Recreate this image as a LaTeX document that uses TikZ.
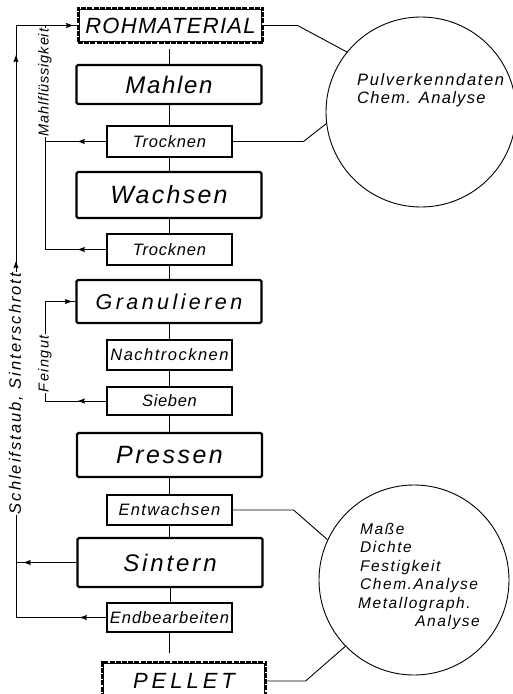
\documentclass[tikz,border=0pt]{standalone}
\usepackage{fontspec}
\setmainfont{Liberation Sans}
\usetikzlibrary{arrows.meta,decorations.markings}
\newcommand\tx[3]{{\fontsize{#1}{#1}\selectfont\addfontfeature{LetterSpace=#2}#3}}
\begin{document}
\begin{tikzpicture}[x=1pt,y=-1pt,font=\itshape,
  conn/.style={line width=0.9pt},
  bigbox/.style={draw,line width=2.4pt,rounded corners=1.5pt,minimum width=185pt,inner sep=0pt},
  smallbox/.style={draw,line width=1.1pt,minimum width=125pt,inner sep=0pt},
  dblbox/.style={draw,line width=1.2pt,dash pattern=on 5pt off 1.2pt,inner sep=0pt},
  lbl/.style={rotate=90,inner sep=1pt},
  ctext/.style={inner sep=0pt},
  circ/.style={draw,circle,line width=0.9pt,minimum size=190pt,inner sep=0pt},
  arr/.style={postaction={decorate,decoration={markings,mark=at position #1 with {\fill (2.5pt,0pt) -- (-4.5pt,2.6pt) -- (-3.5pt,0pt) -- (-4.5pt,-2.6pt) -- cycle;}}}}]
\useasboundingbox (0,0) rectangle (512,694);

% main column
\node[dblbox,minimum width=185pt,minimum height=35pt] (roh) at (170.5,25.5) {\tx{22}{6}{ROHMATERIAL}};
\draw[line width=0.9pt] ([shift={(2.5pt,2.5pt)}]roh.south west) rectangle ([shift={(-2.5pt,-2.5pt)}]roh.north east);
\node[bigbox,minimum height=39pt] (mahl) at (169,84.5) {\tx{24}{7}{Mahlen}};
\node[smallbox,minimum height=31pt] (trk1) at (169.5,141.5) {\tx{16.5}{5}{Trocknen}};
\node[bigbox,minimum height=46pt] (wach) at (169,195) {\tx{25}{9}{Wachsen}};
\node[smallbox,minimum height=31pt] (trk2) at (169.5,249.5) {\tx{16.5}{5}{Trocknen}};
\node[bigbox,minimum height=43pt] (gran) at (169,301.5) {\tx{21.5}{16}{Granulieren}};
\node[smallbox,minimum height=30pt] (nach) at (169.5,355) {\tx{16.5}{9}{Nachtrocknen}};
\node[smallbox,minimum height=28pt] (sieb) at (169.5,401) {\tx{16.5}{4}{Sieben}};
\node[bigbox,minimum height=44pt] (pres) at (169.5,455) {\tx{25}{10}{Pressen}};
\node[smallbox,minimum height=30pt] (entw) at (169.5,510) {\tx{16.5}{8}{Entwachsen}};
\node[bigbox,minimum height=49pt] (sint) at (170,562.5) {\tx{24}{12}{Sintern}};
\node[smallbox,minimum height=29pt] (endb) at (169.5,617.5) {\tx{16.5}{6}{Endbearbeiten}};
\node[dblbox,minimum width=164pt,minimum height=38pt] (pell) at (184,681) {\tx{22}{18}{PELLET}};
\draw[line width=0.9pt] ([shift={(2.5pt,2.5pt)}]pell.south west) rectangle ([shift={(-2.5pt,-2.5pt)}]pell.north east);

% vertical connectors
\draw[conn,shorten <=5pt] (mahl.north |- roh.south) -- (mahl.north);
\draw[conn] (mahl.south) -- (mahl.south |- trk1.north);
\draw[conn] (trk1.south) -- (trk1.south |- wach.north);
\draw[conn] (wach.south) -- (wach.south |- trk2.north);
\draw[conn] (trk2.south) -- (trk2.south |- gran.north);
\draw[conn] (gran.south) -- (gran.south |- nach.north);
\draw[conn] (nach.south) -- (nach.south |- sieb.north);
\draw[conn] (sieb.south) -- (sieb.south |- pres.north);
\draw[conn] (pres.south) -- (pres.south |- entw.north);
\draw[conn] (entw.south) -- (entw.south |- sint.north);
\draw[conn] (sint.south) -- (sint.south |- endb.north);
\draw[conn,shorten >=8pt] (endb.south) -- (endb.south |- pell.north);

% left return lines
\coordinate (oL) at (16,0);
\coordinate (mL) at (45,0);
\node[lbl] (lblS) at (16,393.5) {\tx{16.5}{12}{Schleifstaub, Sinterschrott}};
\node[lbl] (lblM) at (45,82.5) {\tx{14.5}{6}{Mahlflüssigkeit}};
\node[lbl] (lblF) at (45,363.5) {\tx{14.5}{10}{Feingut}};

\draw[conn,arr=24pt] (endb.west) -- (endb.west -| oL) -- (lblS.west);
\draw[conn,arr=50pt] (sint.west) -- (sint.west -| oL);
\draw[conn,arr=8pt,arr=214pt,arr=-7pt] (lblS.east) -- (oL |- roh.west) -- (roh.west);

\draw[conn,arr=26pt] (trk1.west) -- (trk1.west -| mL) -- (lblM.west);
\draw[conn] (lblM.east) -- (mL |- roh.west);
\draw[conn,arr=26pt] (trk2.west) -- (trk2.west -| mL) -- (trk1.west -| mL);

\draw[conn,arr=26pt] (sieb.west) -- (sieb.west -| mL) -- (lblF.west);
\draw[conn,arr=-6pt] (lblF.east) -- (mL |- gran.west) -- (gran.west);

% circles
\node[circ] (c1) at (421,112) {};
\node[circ] (c2) at (414,580) {};
\draw[conn] (roh.east) -- ++(34,0) -- (c1.141.8);
\draw[conn] (trk1.east) -- ++(71,0) -- (c1.187.4);
\draw[conn] (entw.east) -- ++(61,0) -- (c2.155);
\draw[conn] (pell.east) -- ++(39,0) -- (c2.224);

\node[ctext,anchor=base west] (p1) at (357,85) {\tx{16.5}{10}{Pulverkenndaten}};
\node[ctext,anchor=base west] (p2) at (357,103) {\tx{16.5}{8}{Chem. Analyse}};

\node[ctext,anchor=base west] (q1) at (360,534) {\tx{15.5}{10}{Maße}};
\node[ctext,anchor=base west] (q2) at (360,552.5) {\tx{15.5}{10}{Dichte}};
\node[ctext,anchor=base west] (q3) at (360,571) {\tx{15.5}{10}{Festigkeit}};
\node[ctext,anchor=base west] (q4) at (360,589.5) {\tx{15.5}{10}{Chem.Analyse}};
\node[ctext,anchor=base west] (q5) at (358,608) {\tx{15.5}{10}{Metallograph.}};
\node[ctext,anchor=base east] (q6) at (480,626.5) {\tx{15.5}{10}{Analyse}};
\end{tikzpicture}
\end{document}
